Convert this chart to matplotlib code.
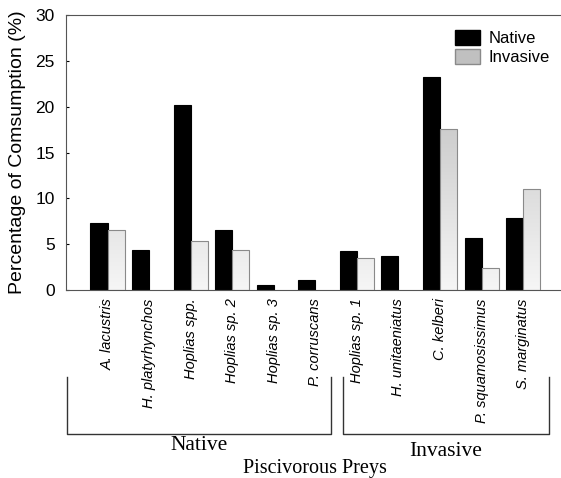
import numpy as np
import matplotlib
matplotlib.use("Agg")
import matplotlib.pyplot as plt
from matplotlib.patches import Patch

preys = ["A. lacustris", "H. platyrhynchos", "Hoplias spp.", "Hoplias sp. 2",
         "Hoplias sp. 3", "P. corruscans", "Hoplias sp. 1", "H. unitaeniatus",
         "C. kelberi", "P. squamosissimus", "S. marginatus"]
native = [7.3, 4.4, 20.2, 6.5, 0.5, 1.1, 4.3, 3.7, 23.2, 5.7, 7.85]
invasive = [6.6, 0, 5.3, 4.4, 0, 0, 3.45, 0, 17.6, 2.4, 11.0]
groups = ["Native", "Invasive"]

plt.rcParams['font.family'] = ['Liberation Sans', 'DejaVu Sans']

fig = plt.figure(figsize=(5.61, 4.78), dpi=100)
ax = fig.add_axes([0.1176, 0.3933, 0.889, 0.5753])

x = np.arange(len(preys))
w = 0.41
ax.bar(x - w/2, native, w, color="black", edgecolor="black", linewidth=0.8)

# invasive bars: grey gradient, darker towards the top
grad = np.linspace(0, 1, 256).reshape(-1, 1)
cmap = matplotlib.colors.LinearSegmentedColormap.from_list("g", ["#f6f6f6", "#bcbcbc"])
for xi, v in zip(x, invasive):
    if v <= 0:
        continue
    b = ax.bar(xi + w/2, v, w, facecolor="none", edgecolor="#8a8a8a", linewidth=0.8, zorder=3)[0]
    im = ax.imshow(grad[: int(256 * v / 25) + 1], extent=[xi, xi + w, 0, v], origin="lower",
                   aspect="auto", cmap=cmap, vmin=0, vmax=1, zorder=2)
    im.set_clip_path(b)

ax.set_xlim(-1, 11)
ax.set_ylim(0, 30)
ax.set_yticks(range(0, 31, 5))
ax.set_xticks(x)
ax.set_xticklabels(preys, rotation=90, fontstyle="italic", fontsize=10.5)
ax.tick_params(axis="x", length=0, pad=6)
ax.tick_params(axis="y", direction="in", length=2, labelsize=12.5, pad=8)
for s in ax.spines.values():
    s.set_color("#555555")
ax.set_ylabel("Percentage of Comsumption (%)", fontsize=14, labelpad=7)

ax.legend(handles=[Patch(facecolor="black", edgecolor="black"),
                   Patch(facecolor="#c0c0c0", edgecolor="#8a8a8a")],
          labels=["Native", "Invasive"], loc="upper right", bbox_to_anchor=(1.0, 1.0),
          frameon=False, fontsize=12, handlelength=1.5, handleheight=1.05,
          handletextpad=0.5, labelspacing=0.15)

# group brackets below the tick labels
H = 478.0
def fy(py):
    return 1 - py / H
def fx(px):
    return px / 561.0
brackets = [(67, 331), (343, 549)]
label_y = [445, 452]
for (x0, x1), g, ly in zip(brackets, groups, label_y):
    fig.add_artist(plt.Line2D([fx(x0), fx(x0), fx(x1), fx(x1)],
                              [fy(377), fy(434), fy(434), fy(377)],
                              color="#333333", linewidth=1.0))
    fig.text(fx((x0 + x1) / 2), fy(ly), g, ha="center", va="center",
             fontsize=15.5, family=["Liberation Serif"])
fig.text(fx(315), fy(468), "Piscivorous Preys", ha="center", va="center",
         fontsize=14.5, family=["Liberation Serif"])

fig.savefig("out.png", dpi=100)
